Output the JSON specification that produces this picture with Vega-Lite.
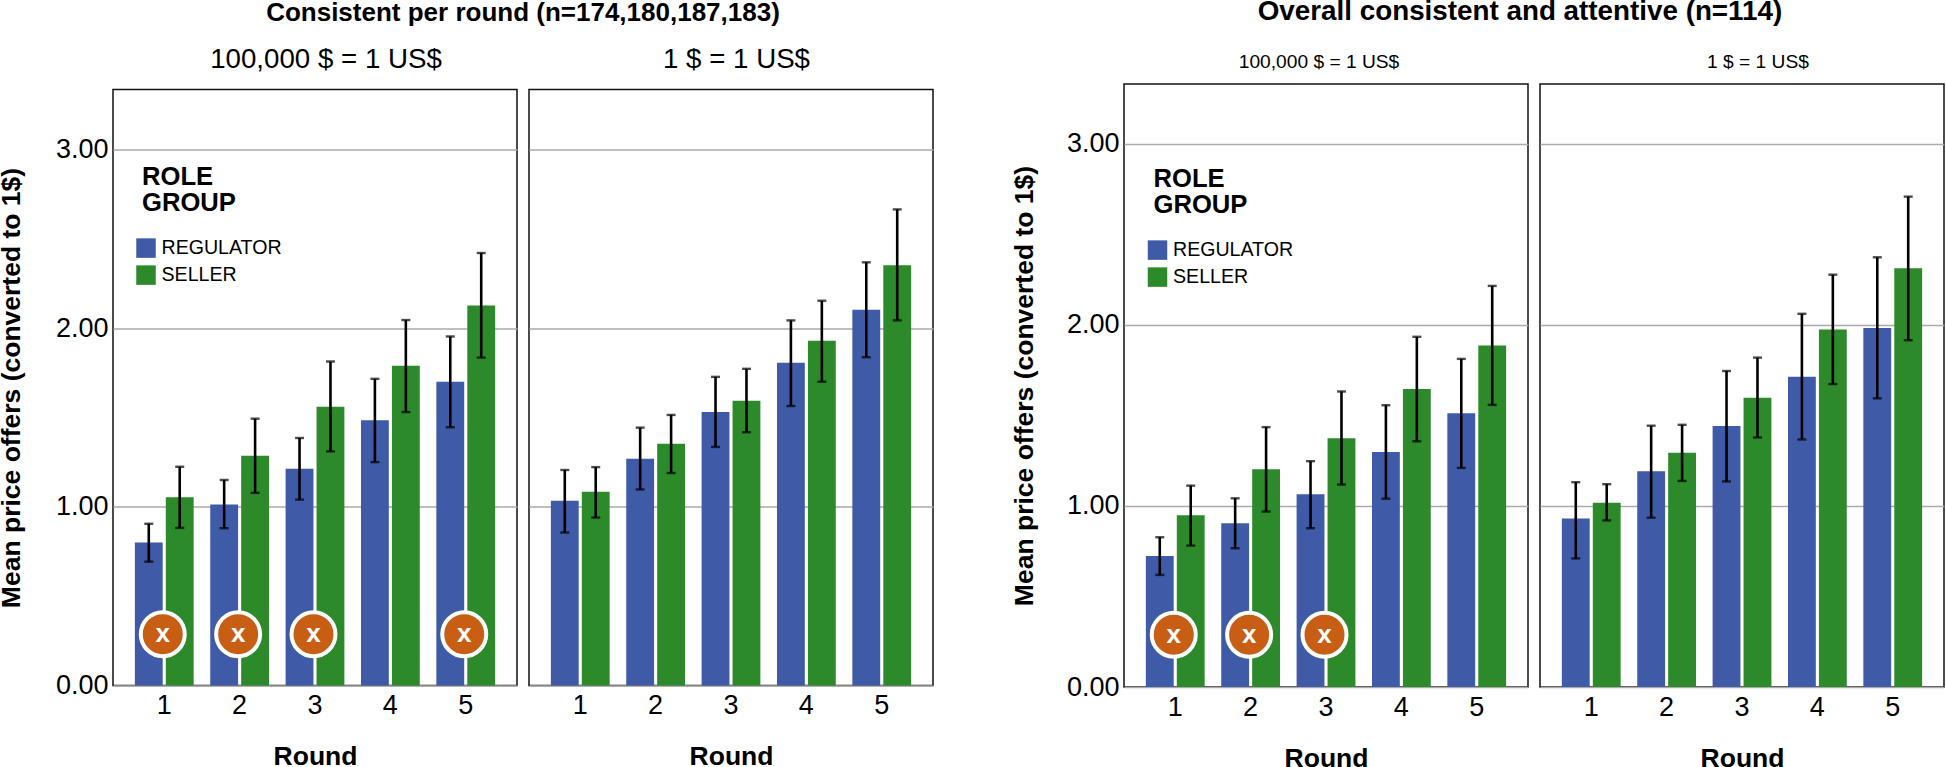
{"$schema":"https://vega.github.io/schema/vega-lite/v6.json","padding":{"top":-3,"left":-2,"right":0,"bottom":0},"background":"white","config":{"font":"Liberation Sans","view":{"stroke":"#111","strokeWidth":1.5},"axis":{"domain":false,"ticks":false,"labelColor":"#000","titleColor":"#000","gridColor":"#aaaaaa","gridWidth":1.5},"title":{"color":"#000"}},"datasets":{"bars":[
{"sample":"A","rate":"high","Round":1,"Role":"REGULATOR","mean":0.80,"lo":0.693,"hi":0.905},{"sample":"A","rate":"high","Round":1,"Role":"SELLER","mean":1.054,"lo":0.882,"hi":1.224},
{"sample":"A","rate":"high","Round":2,"Role":"REGULATOR","mean":1.013,"lo":0.88,"hi":1.15},{"sample":"A","rate":"high","Round":2,"Role":"SELLER","mean":1.286,"lo":1.078,"hi":1.493},
{"sample":"A","rate":"high","Round":3,"Role":"REGULATOR","mean":1.213,"lo":1.04,"hi":1.385},{"sample":"A","rate":"high","Round":3,"Role":"SELLER","mean":1.56,"lo":1.31,"hi":1.813},
{"sample":"A","rate":"high","Round":4,"Role":"REGULATOR","mean":1.484,"lo":1.25,"hi":1.716},{"sample":"A","rate":"high","Round":4,"Role":"SELLER","mean":1.789,"lo":1.53,"hi":2.045},
{"sample":"A","rate":"high","Round":5,"Role":"REGULATOR","mean":1.70,"lo":1.445,"hi":1.953},{"sample":"A","rate":"high","Round":5,"Role":"SELLER","mean":2.127,"lo":1.835,"hi":2.42},
{"sample":"A","rate":"one","Round":1,"Role":"REGULATOR","mean":1.034,"lo":0.856,"hi":1.206},{"sample":"A","rate":"one","Round":1,"Role":"SELLER","mean":1.084,"lo":0.94,"hi":1.222},
{"sample":"A","rate":"one","Round":2,"Role":"REGULATOR","mean":1.269,"lo":1.097,"hi":1.443},{"sample":"A","rate":"one","Round":2,"Role":"SELLER","mean":1.353,"lo":1.189,"hi":1.514},
{"sample":"A","rate":"one","Round":3,"Role":"REGULATOR","mean":1.531,"lo":1.335,"hi":1.727},{"sample":"A","rate":"one","Round":3,"Role":"SELLER","mean":1.594,"lo":1.417,"hi":1.772},
{"sample":"A","rate":"one","Round":4,"Role":"REGULATOR","mean":1.806,"lo":1.564,"hi":2.043},{"sample":"A","rate":"one","Round":4,"Role":"SELLER","mean":1.929,"lo":1.70,"hi":2.153},
{"sample":"A","rate":"one","Round":5,"Role":"REGULATOR","mean":2.103,"lo":1.837,"hi":2.368},{"sample":"A","rate":"one","Round":5,"Role":"SELLER","mean":2.351,"lo":2.043,"hi":2.664},
{"sample":"B","rate":"high","Round":1,"Role":"REGULATOR","mean":0.724,"lo":0.619,"hi":0.827},{"sample":"B","rate":"high","Round":1,"Role":"SELLER","mean":0.948,"lo":0.781,"hi":1.112},
{"sample":"B","rate":"high","Round":2,"Role":"REGULATOR","mean":0.904,"lo":0.766,"hi":1.042},{"sample":"B","rate":"high","Round":2,"Role":"SELLER","mean":1.203,"lo":0.969,"hi":1.435},
{"sample":"B","rate":"high","Round":3,"Role":"REGULATOR","mean":1.064,"lo":0.877,"hi":1.247},{"sample":"B","rate":"high","Round":3,"Role":"SELLER","mean":1.374,"lo":1.118,"hi":1.632},
{"sample":"B","rate":"high","Round":4,"Role":"REGULATOR","mean":1.298,"lo":1.04,"hi":1.556},{"sample":"B","rate":"high","Round":4,"Role":"SELLER","mean":1.645,"lo":1.357,"hi":1.934},
{"sample":"B","rate":"high","Round":5,"Role":"REGULATOR","mean":1.512,"lo":1.21,"hi":1.812},{"sample":"B","rate":"high","Round":5,"Role":"SELLER","mean":1.886,"lo":1.558,"hi":2.215},
{"sample":"B","rate":"one","Round":1,"Role":"REGULATOR","mean":0.93,"lo":0.71,"hi":1.131},{"sample":"B","rate":"one","Round":1,"Role":"SELLER","mean":1.018,"lo":0.92,"hi":1.12},
{"sample":"B","rate":"one","Round":2,"Role":"REGULATOR","mean":1.192,"lo":0.935,"hi":1.443},{"sample":"B","rate":"one","Round":2,"Role":"SELLER","mean":1.293,"lo":1.138,"hi":1.448},
{"sample":"B","rate":"one","Round":3,"Role":"REGULATOR","mean":1.441,"lo":1.135,"hi":1.745},{"sample":"B","rate":"one","Round":3,"Role":"SELLER","mean":1.598,"lo":1.378,"hi":1.819},
{"sample":"B","rate":"one","Round":4,"Role":"REGULATOR","mean":1.714,"lo":1.367,"hi":2.061},{"sample":"B","rate":"one","Round":4,"Role":"SELLER","mean":1.974,"lo":1.673,"hi":2.277},
{"sample":"B","rate":"one","Round":5,"Role":"REGULATOR","mean":1.982,"lo":1.594,"hi":2.373},{"sample":"B","rate":"one","Round":5,"Role":"SELLER","mean":2.312,"lo":1.915,"hi":2.708}
],"sig":[{"sample":"A","Round":1,"mark":"x"},{"sample":"A","Round":2,"mark":"x"},{"sample":"A","Round":3,"mark":"x"},{"sample":"A","Round":5,"mark":"x"},{"sample":"B","Round":1,"mark":"x"},{"sample":"B","Round":2,"mark":"x"},{"sample":"B","Round":3,"mark":"x"}]},
"spacing":77,"resolve":{"scale":{"fill":"independent"}},
"hconcat":[
{"title":{"text":"Consistent per round (n=174,180,187,183)","fontSize":26,"fontWeight":"bold","anchor":"middle","offset":0,"dx":57},"spacing":18.5,"resolve":{"scale":{"fill":"independent"}},"vconcat":[
{"width":1,"height":1,"view":{"stroke":null},"data":{"values":[{}]},"mark":{"type":"rule","opacity":0},"encoding":{}},
{"spacing":10,"resolve":{"scale":{"fill":"independent"}},"hconcat":[
{"width":404,"height":596,"title":{"text":"100,000 $ = 1 US$","fontSize":27.7,"fontWeight":"normal","offset":15.5,"dx":11},
"layer":[
{"data":{"name":"bars"},"transform":[{"filter":"datum.sample=='A' && datum.rate=='high'"}],"layer":[
{"mark":{"type":"bar"},"encoding":{"x":{"field":"Round","type":"ordinal","scale":{"paddingInner":0.22,"paddingOuter":0.29},"axis":{"labelAngle":0,"labelFontSize":27,"labelPadding":7,"title":"Round","titleFontSize":26.5,"titleFontWeight":"bold","titlePadding":25}},"xOffset":{"field":"Role","scale":{"paddingInner":0.1}},"y":{"field":"mean","type":"quantitative","scale":{"domain":[0,3.335],"nice":false},"axis":{"values":[0,1,2,3],"format":".2f","labelFontSize":27,"labelPadding":5,"title":"Mean price offers (converted to 1$)","titleFontSize":26.5,"titleFontWeight":"bold","titlePadding":29.5,"grid":true}},"fill":{"field":"Role","scale":{"domain":["REGULATOR","SELLER"],"range":["#3f5ba8","#2d8a2a"]},"legend":{"orient":"none","legendX":29,"legendY":75.5,"title":["ROLE","GROUP"],"titleFontSize":25.6,"titleFontWeight":"bold","titleColor":"#000","titleLineHeight":26,"titlePadding":21.5,"labelFontSize":19.6,"labelColor":"#000","labelOffset":5.5,"symbolOffset":-6,"symbolType":"square","symbolSize":380,"symbolStrokeWidth":0,"rowPadding":7}}}},
{"mark":{"type":"rule","color":"#000","strokeWidth":2.6},"encoding":{"x":{"field":"Round","type":"ordinal"},"xOffset":{"field":"Role"},"y":{"field":"lo","type":"quantitative"},"y2":{"field":"hi"}}},
{"mark":{"type":"tick","color":"#000","thickness":2.4,"size":9},"encoding":{"x":{"field":"Round","type":"ordinal"},"xOffset":{"field":"Role"},"y":{"field":"lo","type":"quantitative"}}},
{"mark":{"type":"tick","color":"#000","thickness":2.4,"size":9},"encoding":{"x":{"field":"Round","type":"ordinal"},"xOffset":{"field":"Role"},"y":{"field":"hi","type":"quantitative"}}}
]},
{"data":{"name":"sig"},"transform":[{"filter":"datum.sample=='A'"}],"layer":[
{"mark":{"type":"point","shape":"circle","filled":true,"fill":"#c85d14","stroke":"#fff","strokeWidth":4,"size":1936,"opacity":1,"xOffset":-1.5},"encoding":{"x":{"field":"Round","type":"ordinal"},"y":{"datum":0.287,"type":"quantitative"}}},
{"mark":{"type":"text","color":"#fff","fontWeight":"bold","fontSize":26,"xOffset":-1.5,"baseline":"middle"},"encoding":{"x":{"field":"Round","type":"ordinal"},"y":{"datum":0.287,"type":"quantitative"},"text":{"field":"mark"}}}
]}
]},
{"width":404,"height":596,"title":{"text":"1 $ = 1 US$","fontSize":27.7,"fontWeight":"normal","offset":15.5,"dx":5.5},
"data":{"name":"bars"},"transform":[{"filter":"datum.sample=='A' && datum.rate=='one'"}],"layer":[
{"mark":{"type":"bar"},"encoding":{"x":{"field":"Round","type":"ordinal","scale":{"paddingInner":0.22,"paddingOuter":0.29},"axis":{"labelAngle":0,"labelFontSize":27,"labelPadding":7,"title":"Round","titleFontSize":26.5,"titleFontWeight":"bold","titlePadding":25}},"xOffset":{"field":"Role","scale":{"paddingInner":0.1}},"y":{"field":"mean","type":"quantitative","scale":{"domain":[0,3.335],"nice":false},"axis":{"values":[0,1,2,3],"labels":false,"title":null,"grid":true}},"fill":{"field":"Role","scale":{"domain":["REGULATOR","SELLER"],"range":["#3f5ba8","#2d8a2a"]},"legend":null}}},
{"mark":{"type":"rule","color":"#000","strokeWidth":2.6},"encoding":{"x":{"field":"Round","type":"ordinal"},"xOffset":{"field":"Role"},"y":{"field":"lo","type":"quantitative"},"y2":{"field":"hi"}}},
{"mark":{"type":"tick","color":"#000","thickness":2.4,"size":9},"encoding":{"x":{"field":"Round","type":"ordinal"},"xOffset":{"field":"Role"},"y":{"field":"lo","type":"quantitative"}}},
{"mark":{"type":"tick","color":"#000","thickness":2.4,"size":9},"encoding":{"x":{"field":"Round","type":"ordinal"},"xOffset":{"field":"Role"},"y":{"field":"hi","type":"quantitative"}}}
]}
]}
]},
{"title":{"text":"Overall consistent and attentive (n=114)","fontSize":27.8,"fontWeight":"bold","anchor":"middle","offset":0,"dx":42},"spacing":25,"resolve":{"scale":{"fill":"independent"}},"vconcat":[
{"width":1,"height":1,"view":{"stroke":null},"data":{"values":[{}]},"mark":{"type":"rule","opacity":0},"encoding":{}},
{"spacing":10,"resolve":{"scale":{"fill":"independent"}},"hconcat":[
{"width":404,"height":603,"title":{"text":"100,000 $ = 1 US$","fontSize":19.2,"fontWeight":"normal","offset":12,"dx":-7},
"layer":[
{"data":{"name":"bars"},"transform":[{"filter":"datum.sample=='B' && datum.rate=='high'"}],"layer":[
{"mark":{"type":"bar"},"encoding":{"x":{"field":"Round","type":"ordinal","scale":{"paddingInner":0.22,"paddingOuter":0.29},"axis":{"labelAngle":0,"labelFontSize":27,"labelPadding":7,"title":"Round","titleFontSize":26.5,"titleFontWeight":"bold","titlePadding":25}},"xOffset":{"field":"Role","scale":{"paddingInner":0.1}},"y":{"field":"mean","type":"quantitative","scale":{"domain":[0,3.33],"nice":false},"axis":{"values":[0,1,2,3],"format":".2f","labelFontSize":27,"labelPadding":5,"title":"Mean price offers (converted to 1$)","titleFontSize":26.5,"titleFontWeight":"bold","titlePadding":27.5,"grid":true}},"fill":{"field":"Role","scale":{"domain":["REGULATOR","SELLER"],"range":["#3f5ba8","#2d8a2a"]},"legend":{"orient":"none","legendX":29.5,"legendY":83,"title":["ROLE","GROUP"],"titleFontSize":25.6,"titleFontWeight":"bold","titleColor":"#000","titleLineHeight":26,"titlePadding":21.5,"labelFontSize":19.6,"labelColor":"#000","labelOffset":5.5,"symbolOffset":-6,"symbolType":"square","symbolSize":380,"symbolStrokeWidth":0,"rowPadding":7}}}},
{"mark":{"type":"rule","color":"#000","strokeWidth":2.6},"encoding":{"x":{"field":"Round","type":"ordinal"},"xOffset":{"field":"Role"},"y":{"field":"lo","type":"quantitative"},"y2":{"field":"hi"}}},
{"mark":{"type":"tick","color":"#000","thickness":2.4,"size":9},"encoding":{"x":{"field":"Round","type":"ordinal"},"xOffset":{"field":"Role"},"y":{"field":"lo","type":"quantitative"}}},
{"mark":{"type":"tick","color":"#000","thickness":2.4,"size":9},"encoding":{"x":{"field":"Round","type":"ordinal"},"xOffset":{"field":"Role"},"y":{"field":"hi","type":"quantitative"}}}
]},
{"data":{"name":"sig"},"transform":[{"filter":"datum.sample=='B'"}],"layer":[
{"mark":{"type":"point","shape":"circle","filled":true,"fill":"#c85d14","stroke":"#fff","strokeWidth":4,"size":1936,"opacity":1,"xOffset":-1.5},"encoding":{"x":{"field":"Round","type":"ordinal"},"y":{"datum":0.289,"type":"quantitative"}}},
{"mark":{"type":"text","color":"#fff","fontWeight":"bold","fontSize":26,"xOffset":-1.5,"baseline":"middle"},"encoding":{"x":{"field":"Round","type":"ordinal"},"y":{"datum":0.289,"type":"quantitative"},"text":{"field":"mark"}}}
]}
]},
{"width":404,"height":603,"title":{"text":"1 $ = 1 US$","fontSize":19.2,"fontWeight":"normal","offset":12,"dx":16},
"data":{"name":"bars"},"transform":[{"filter":"datum.sample=='B' && datum.rate=='one'"}],"layer":[
{"mark":{"type":"bar"},"encoding":{"x":{"field":"Round","type":"ordinal","scale":{"paddingInner":0.22,"paddingOuter":0.29},"axis":{"labelAngle":0,"labelFontSize":27,"labelPadding":7,"title":"Round","titleFontSize":26.5,"titleFontWeight":"bold","titlePadding":25}},"xOffset":{"field":"Role","scale":{"paddingInner":0.1}},"y":{"field":"mean","type":"quantitative","scale":{"domain":[0,3.33],"nice":false},"axis":{"values":[0,1,2,3],"labels":false,"title":null,"grid":true}},"fill":{"field":"Role","scale":{"domain":["REGULATOR","SELLER"],"range":["#3f5ba8","#2d8a2a"]},"legend":null}}},
{"mark":{"type":"rule","color":"#000","strokeWidth":2.6},"encoding":{"x":{"field":"Round","type":"ordinal"},"xOffset":{"field":"Role"},"y":{"field":"lo","type":"quantitative"},"y2":{"field":"hi"}}},
{"mark":{"type":"tick","color":"#000","thickness":2.4,"size":9},"encoding":{"x":{"field":"Round","type":"ordinal"},"xOffset":{"field":"Role"},"y":{"field":"lo","type":"quantitative"}}},
{"mark":{"type":"tick","color":"#000","thickness":2.4,"size":9},"encoding":{"x":{"field":"Round","type":"ordinal"},"xOffset":{"field":"Role"},"y":{"field":"hi","type":"quantitative"}}}
]}
]}
]}
]}
